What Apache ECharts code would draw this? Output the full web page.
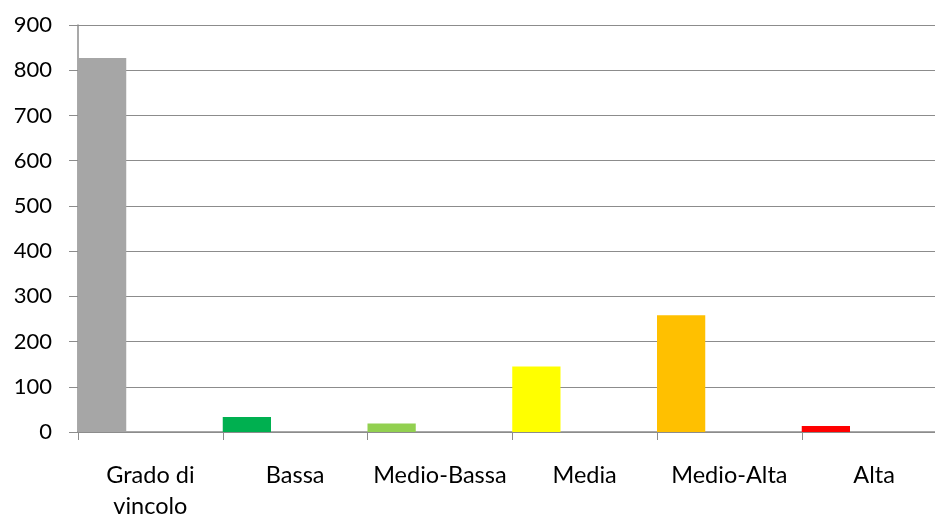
<!DOCTYPE html>
<html>
<head>
<meta charset="utf-8">
<script src="https://cdn.jsdelivr.net/npm/echarts@6/dist/echarts.min.js"></script>
<style>
  html, body { margin: 0; padding: 0; background: #fff; }
  #chart { width: 935px; height: 515px; }
</style>
</head>
<body>
<div id="chart"></div>
<script>
// Count per vincolo class
const categories = ['Grado di vincolo', 'Bassa', 'Medio-Bassa', 'Media', 'Medio-Alta', 'Alta'];
const values = [827, 33, 19, 145, 258, 13];
const barColors = ['#A6A6A6', '#00B050', '#92D050', '#FFFF00', '#FFC000', '#FF0000'];
const yTicks = { min: 0, max: 900, step: 100 };

const gridGray = '#8C8C8C';
const labelFont = 'Lato, "Open Sans", sans-serif';

const chart = echarts.init(document.getElementById('chart'), null, { renderer: 'canvas' });

// Colored bar occupies the first third of each category slot; the two
// blank companion series keep the remaining space empty.
const blank = categories.map(() => null);

chart.setOption({
  animation: false,
  backgroundColor: '#ffffff',
  grid: {
    left: 78, top: 25, width: 868.5, height: 407,
    containLabel: false,
    outerBoundsMode: 'none'
  },
  xAxis: {
    type: 'category',
    data: categories,
    boundaryGap: true,
    axisLine: { show: true, lineStyle: { color: gridGray, width: 1.5 } },
    axisTick: { show: true, alignWithLabel: false, length: 8, lineStyle: { color: gridGray, width: 1 } },
    axisLabel: {
      color: '#000',
      fontFamily: labelFont,
      fontSize: 23.5,
      lineHeight: 31,
      margin: 28,
      interval: 0,
      formatter: v => v.replace('di ', 'di\n')
    }
  },
  yAxis: {
    type: 'value',
    min: yTicks.min,
    max: yTicks.max,
    interval: yTicks.step,
    axisLine: { show: true, lineStyle: { color: gridGray, width: 1.5 } },
    axisTick: { show: true, length: 9, lineStyle: { color: gridGray, width: 1 } },
    splitLine: { show: true, lineStyle: { color: gridGray, width: 1 } },
    axisLabel: { color: '#000', fontFamily: labelFont, fontSize: 22, margin: 26 }
  },
  series: [
    {
      type: 'bar',
      data: values.map((v, i) => ({ value: v, itemStyle: { color: barColors[i] } })),
      barGap: '0%',
      barCategoryGap: '0%'
    },
    { type: 'bar', data: blank, barGap: '0%', barCategoryGap: '0%' },
    { type: 'bar', data: blank, barGap: '0%', barCategoryGap: '0%' }
  ]
});
</script>
</body>
</html>
